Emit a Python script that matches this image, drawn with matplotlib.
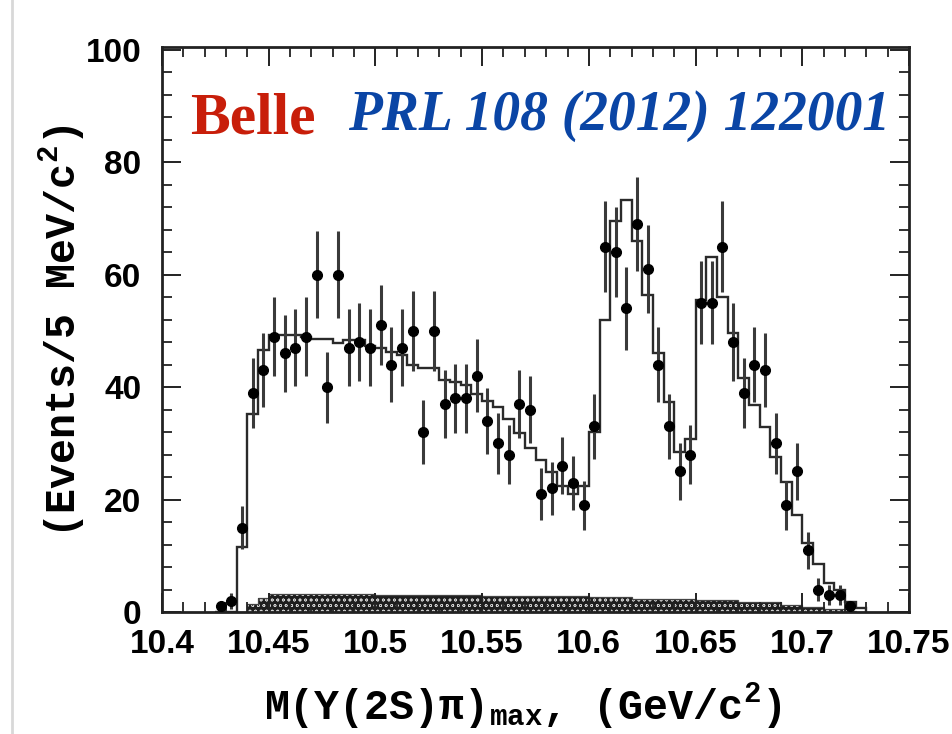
import numpy as np
import matplotlib
matplotlib.use("Agg")
import matplotlib.pyplot as plt
from matplotlib.ticker import MultipleLocator

# ---------------- data ----------------
bin_width = 0.005
first_edge = 10.425
# observed events per 5 MeV bin (bin centres 10.4275 ... 10.7225)
counts = [1, 2, 15, 39, 43, 49, 46, 47, 49, 60,
          40, 60, 47, 48, 47, 51, 44, 47, 50, 32,
          50, 37, 38, 38, 42, 34, 30, 28, 37, 36,
          21, 22, 26, 23, 19, 33, 65, 64, 54, 69,
          61, 44, 33, 25, 28, 55, 55, 65, 48, 39,
          44, 43, 30, 19, 25, 11, 4, 3, 3, 1]
# fit histogram, bins 10.425 ... 10.730
fit = [0, 0, 11.6, 35.2, 46.6, 49.2, 49.2, 49.2, 49.0, 48.5,
       48.5, 47.8, 48.4, 48.3, 47.4, 46.9, 46.3, 45.8, 44.0, 43.4,
       43.4, 41.2, 41.0, 40.3, 38.7, 37.5, 36.5, 34.3, 31.9, 29.2,
       27.0, 24.9, 22.5, 21.0, 22.4, 32.0, 51.9, 69.6, 73.2, 66.0,
       56.3, 46.1, 37.4, 28.5, 30.8, 55.5, 63.1, 56.0, 49.6, 41.7,
       36.9, 32.9, 27.6, 23.1, 17.2, 12.2, 8.6, 5.1, 3.9, 1.7,
       0.7]
# background (hatched) component
background = [0, 0, 0, 1.5, 2.5, 3.2, 3.2, 3.2, 3.2, 3.2,
              3.2, 3.2, 3.2, 3.2, 3.2, 3.1, 3.1, 3.1, 3.1, 3.1,
              3.1, 3.1, 3.1, 3.1, 3.1, 2.9, 2.9, 2.9, 2.9, 2.9,
              2.9, 2.9, 2.9, 2.9, 2.9, 2.7, 2.7, 2.7, 2.7, 2.4,
              2.4, 2.4, 2.4, 2.4, 2.4, 2.1, 2.1, 2.1, 2.1, 1.7,
              1.7, 1.7, 1.7, 1.3, 1.3, 0.9, 0.9, 0.5, 0.5, 0.2,
              0.0]
xticks = [10.4, 10.45, 10.5, 10.55, 10.6, 10.65, 10.7, 10.75]
xticklabels = ["10.4", "10.45", "10.5", "10.55", "10.6", "10.65", "10.7", "10.75"]
yticks = [0, 20, 40, 60, 80, 100]
yticklabels = ["0", "20", "40", "60", "80", "100"]

counts = np.array(counts, dtype=float)
fit = np.array(fit)
background = np.array(background)
centers = first_edge + bin_width * (np.arange(len(counts)) + 0.5)
edges = first_edge + bin_width * np.arange(len(fit) + 1)
errors = np.sqrt(counts)

# ---------------- figure ----------------
plt.rcParams['hatch.linewidth'] = 0.45
plt.rcParams['mathtext.default'] = 'regular'
fig = plt.figure(figsize=(9.53, 7.34), dpi=100)
ax = fig.add_axes([162/953, (734-612)/734, (909-162)/953, (612-47)/734])

# background hatched
ax.fill_between(edges, np.append(background, background[-1]), step='post',
                facecolor='#1e1e1e', edgecolor='#d0d0d0', hatch='ooo', linewidth=0, zorder=1)
ax.stairs(background, edges, color='#444444', lw=0.9, zorder=1.5)

# fit histogram
ax.stairs(fit, edges, color='#2a2a2a', lw=1.7, zorder=2)

# data
ax.errorbar(centers, counts, yerr=errors, fmt='o', ms=7, mfc='black', mec='black',
            ecolor='#3a3a3a', elinewidth=2.2, capsize=0, zorder=3)

ax.set_xlim(10.4, 10.75)
ax.set_ylim(0, 100.5)
ax.set_xticks(xticks)
ax.set_xticklabels(xticklabels)
ax.set_yticks(yticks)
ax.set_yticklabels(yticklabels)
ax.xaxis.set_minor_locator(MultipleLocator(0.01))
ax.yaxis.set_minor_locator(MultipleLocator(4))
ax.tick_params(which='both', direction='in', top=True, right=True, color='#222222')
ax.tick_params(which='major', length=14, width=1.4)
ax.tick_params(which='minor', length=7, width=1.3)
ax.tick_params(axis='x', which='major', pad=12)
ax.tick_params(axis='y', which='major', pad=15)
for lab in ax.get_xticklabels() + ax.get_yticklabels():
    lab.set_fontfamily('Liberation Sans')
    lab.set_fontweight('bold')
    lab.set_fontsize(24)
for sp in ax.spines.values():
    sp.set_linewidth(2.0)
    sp.set_color('#222222')

# axis labels (typewriter bold)
fig.text(62/953, 1 - 331/734, r"(Events/5 MeV/c$^{2}$)", rotation=90,
         ha='center', va='center', fontsize=30, fontweight='bold',
         family='Liberation Mono')
fig.text(523/953, 1 - 706/734, r"M($\Upsilon$(2S)π)$_{max}$, (GeV/c$^{2}$)",
         ha='center', va='center', fontsize=30, fontweight='bold',
         family=['Liberation Mono', 'DejaVu Sans Mono'])

# annotations
ax.text(190/953, 1 - 133/734, "Belle", transform=fig.transFigure, ha='left', va='baseline',
        fontsize=43, fontweight='bold', family='Liberation Serif', color='#c81e0a')
ax.text(348/953, 1 - 130/734, "PRL 108 (2012) 122001", transform=fig.transFigure,
        ha='left', va='baseline', fontsize=40, fontweight='bold', fontstyle='italic',
        family='Liberation Serif', color='#0a45a5')

# faint page border on the left
fig.add_artist(plt.Line2D([12/953, 12/953], [0, 1], transform=fig.transFigure,
                          color='#d8d8d8', lw=2))

fig.savefig("out.png", dpi=100)
